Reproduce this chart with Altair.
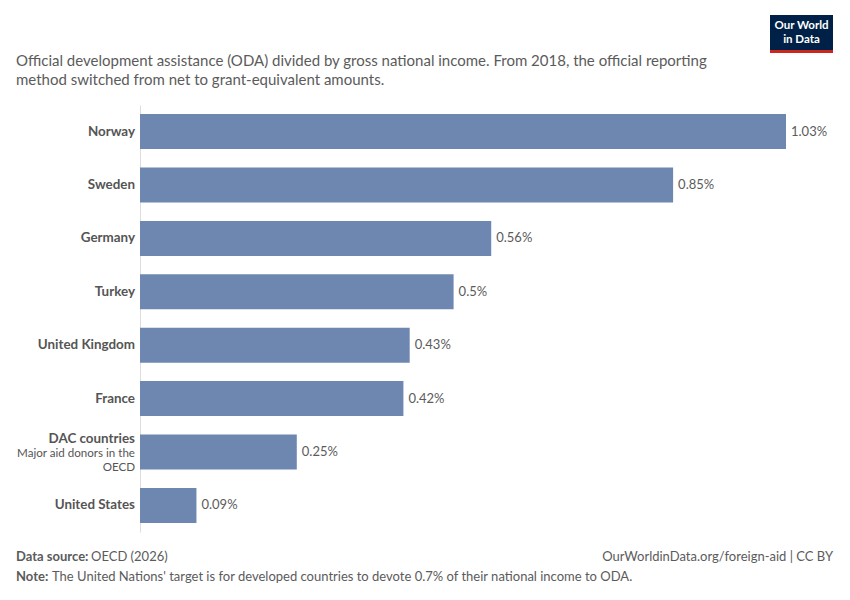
import pandas as pd
import altair as alt

countries = ["Norway", "Sweden", "Germany", "Turkey", "United Kingdom",
             "France", "DAC countries", "United States"]
oda_share = [1.03, 0.85, 0.56, 0.5, 0.43, 0.42, 0.25, 0.09]

# DAC countries gets a small description under its name
dac_name = "DAC countries"
dac_lines = ["Major aid donors in the", "OECD"]

subtitle_lines = [
    "Official development assistance (ODA) divided by gross national income. From 2018, the official reporting",
    "method switched from net to grant-equivalent amounts.",
]

FONT = "Lato"
GREY = "#5b5b5b"
BAR = "#6d87b0"

df = pd.DataFrame({"country": countries, "oda": oda_share})

y_enc = alt.Y("country:N", sort=countries,
              scale=alt.Scale(paddingInner=0.345, paddingOuter=0.17),
              axis=alt.Axis(labels=False, ticks=False, title=None,
                            domainColor="#dddddd", domainWidth=1))
x_enc = alt.X("oda:Q", scale=alt.Scale(domain=[0, 1.03], nice=False), axis=None)

base = alt.Chart(df)
bars = base.mark_bar(color=BAR).encode(x=x_enc, y=y_enc)

values = base.transform_calculate(
    label="format(datum.oda, '.2~f') + '%'"
).mark_text(align="left", baseline="middle", dx=5, font=FONT, fontSize=13,
            color=GREY).encode(x=x_enc, y=y_enc, text="label:N")

names = base.transform_filter(alt.datum.country != dac_name).mark_text(
    align="right", baseline="middle", font=FONT, fontSize=13.4,
    fontWeight="bold", color="#555555"
).encode(x=alt.value(-5), y=y_enc, text="country:N")

dac = base.transform_filter(alt.datum.country == dac_name)
dac_labels = [
    dac.mark_text(align="right", baseline="middle", font=FONT, fontSize=13.4,
                  fontWeight="bold", color="#555555", dy=-13
                  ).encode(x=alt.value(-5), y=y_enc, text="country:N"),
    dac.mark_text(align="right", baseline="middle", font=FONT, fontSize=11.6,
                  color="#555555", text=dac_lines[0], dy=1.5
                  ).encode(x=alt.value(-5), y=y_enc),
    dac.mark_text(align="right", baseline="middle", font=FONT, fontSize=11.6,
                  color="#555555", text=dac_lines[1], dy=15.5
                  ).encode(x=alt.value(-5), y=y_enc),
]

# header and footer texts
one = pd.DataFrame({"k": [0]})


def note(text, x, y, size=13, weight="normal", align="left", color=GREY):
    return alt.Chart(one).mark_text(
        text=text, align=align, baseline="middle", font=FONT,
        fontSize=size, fontWeight=weight, color=color
    ).encode(x=alt.value(x), y=alt.value(y))


header = [
    note(subtitle_lines[0], -124, -44, size=15),
    note(subtitle_lines[1], -124, -25, size=15),
]

logo_box = alt.Chart(one).mark_rect(color="#002147").encode(
    x=alt.value(630), x2=alt.value(693), y=alt.value(-90), y2=alt.value(-55))
logo_line = alt.Chart(one).mark_rect(color="#ce261e").encode(
    x=alt.value(630), x2=alt.value(693), y=alt.value(-55), y2=alt.value(-52))
logo_text = [
    note("Our World", 661.5, -79, size=11.5, weight="bold", align="center", color="white"),
    note("in Data", 661.5, -65.5, size=11.5, weight="bold", align="center", color="white"),
]

footer = [
    note("Data source:", -124, 452, weight="bold"),
    note("OECD (2026)", -49, 452),
    note("OurWorldinData.org/foreign-aid | CC BY", 693, 452, align="right"),
    note("Note:", -124, 472, weight="bold"),
    note("The United Nations' target is for developed countries to devote 0.7% of their national income to ODA.",
         -88, 472),
]

chart = alt.layer(
    bars, values, names, *dac_labels, *header, logo_box, logo_line,
    *logo_text, *footer
).properties(
    width=646, height=427,
    autosize=alt.AutoSizeParams(type="none"),
    padding={"left": 132, "top": 97, "right": 56, "bottom": 60},
    background="white",
).configure_view(stroke=None)

chart.save("out.html", embed_options={"renderer": "svg", "actions": False})
